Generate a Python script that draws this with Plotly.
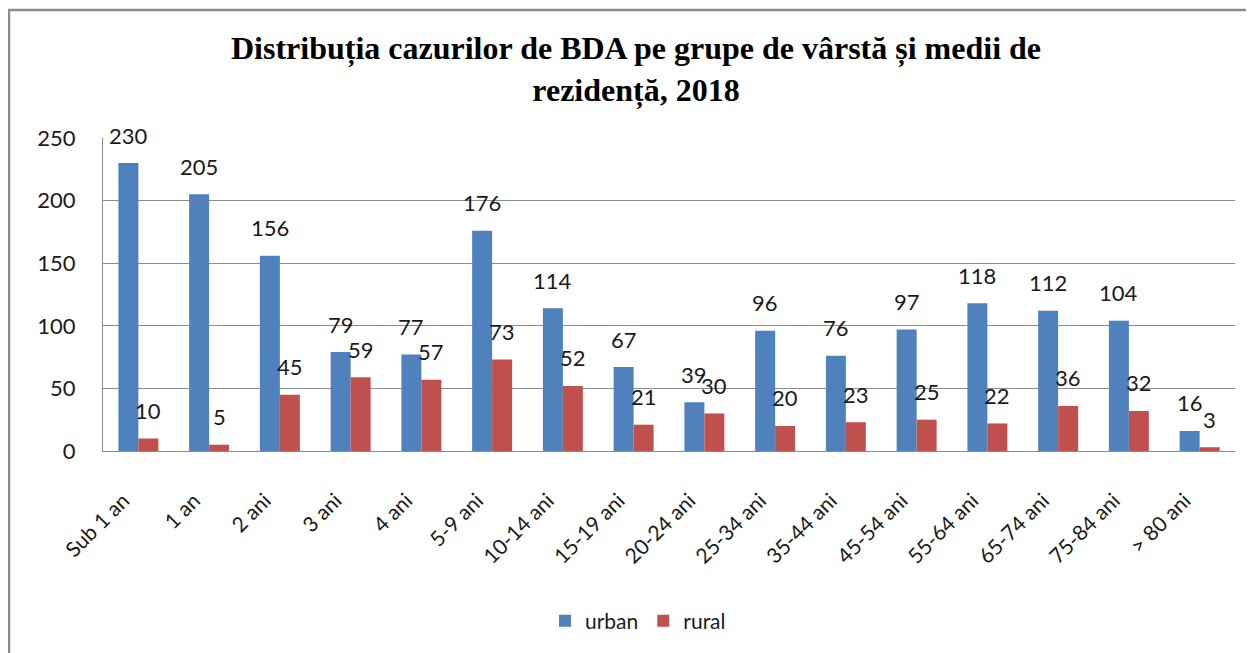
import plotly.graph_objects as go

categories = ["Sub 1 an", "1 an", "2 ani", "3 ani", "4 ani", "5-9 ani", "10-14 ani",
              "15-19 ani", "20-24 ani", "25-34 ani", "35-44 ani", "45-54 ani",
              "55-64 ani", "65-74 ani", "75-84 ani", "> 80 ani"]
urban = [230, 205, 156, 79, 77, 176, 114, 67, 39, 96, 76, 97, 118, 112, 104, 16]
rural = [10, 5, 45, 59, 57, 73, 52, 21, 30, 20, 23, 25, 22, 36, 32, 3]
y_ticks = [0, 50, 100, 150, 200, 250]

title_text = "<b>Distribuția cazurilor de BDA pe grupe de vârstă și medii de<br>rezidență, 2018</b>"

# page is rendered with an 8px body margin, so layout coords are offset by -8
W, H = 1254, 653
L, T = 95, 130
plot_w = 1132
plot_h = 313
R = W - L - plot_w
B = H - T - plot_h
bargap = 0.435
bar_px = plot_w / len(categories) * (1 - bargap) / 2

fig = go.Figure()
fig.add_trace(go.Bar(x=categories, y=urban, name="urban", marker_color="#4F81BD",
                     marker_line_width=0))
fig.add_trace(go.Bar(x=categories, y=rural, name="rural", marker_color="#C0504D",
                     marker_line_width=0))

label_font = dict(family="Lato, Open Sans, sans-serif", size=22, color="#1a1a1a")
for c, u, r in zip(categories, urban, rural):
    fig.add_annotation(x=c, y=u, text=str(u), showarrow=False, xshift=-bar_px / 2,
                       yshift=28, font=label_font)
    fig.add_annotation(x=c, y=r, text=str(r), showarrow=False, xshift=bar_px / 2,
                       yshift=28, font=label_font)

# outer chart border (only left and top edges are visible in the frame)
fig.add_shape(type="rect", xref="paper", yref="paper",
              x0=(1 - L) / plot_w, x1=(1300 - L) / plot_w,
              y0=(T + plot_h - 700) / plot_h, y1=(T + plot_h - 2) / plot_h,
              line=dict(color="#8c8c8c", width=2.5), fillcolor="rgba(0,0,0,0)", layer="below")

fig.update_layout(
    width=W, height=H,
    margin=dict(l=L, r=R, t=T, b=B, autoexpand=False),
    paper_bgcolor="white", plot_bgcolor="white",
    barmode="group", bargap=bargap, bargroupgap=0,
    title=dict(text=title_text, x=628 / W, xanchor="center", y=1 - 51 / H, yanchor="middle",
               font=dict(family="Liberation Serif, Times New Roman, serif", size=32,
                         color="black")),
    font=dict(family="Lato, Open Sans, sans-serif", color="#1a1a1a"),
    showlegend=True,
    legend=dict(orientation="h", x=(630 - L) / plot_w, xanchor="center",
                y=(T + plot_h - 613) / plot_h, yanchor="middle",
                font=dict(size=21, color="#1a1a1a"), traceorder="normal",
                itemwidth=30),
    xaxis=dict(type="category", tickangle=-45, tickfont=dict(size=21),
               showline=True, linecolor="#8c8c8c", linewidth=1, ticks="",
               showgrid=False, ticklabelstandoff=28, ticklabelshift=-15,
               automargin=False),
    yaxis=dict(range=[0, 250], tickvals=y_ticks, tickfont=dict(size=22),
               showgrid=True, gridcolor="#8c8c8c", gridwidth=1,
               showline=True, linecolor="#8c8c8c", linewidth=1,
               zeroline=False, ticks="", ticklabelstandoff=22, automargin=False),
)

fig.write_html("out.html")
